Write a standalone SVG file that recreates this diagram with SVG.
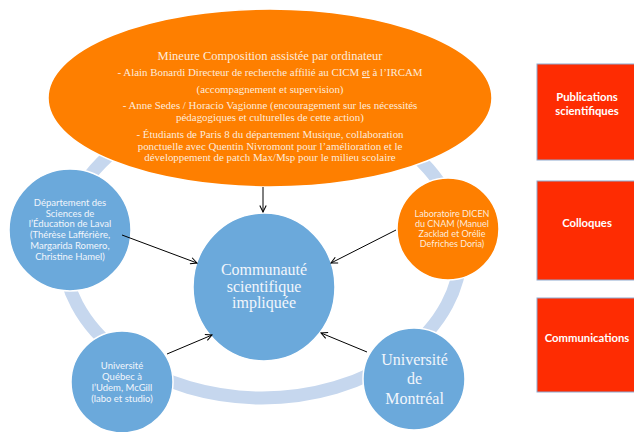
<svg xmlns="http://www.w3.org/2000/svg" width="634" height="432" viewBox="0 0 634 432">
<defs>
<style>
.blue{fill:#6ba9db;stroke:#ffffff;stroke-width:1.5}
.orange{fill:#fe7f00;stroke:#ffffff;stroke-width:1.5}
.red{fill:#fe2c02;stroke:#8ea9d0;stroke-width:1}
.serif{font-family:"Liberation Serif","Times New Roman",serif;text-anchor:middle}
.sans{font-family:Lato,"Liberation Sans",sans-serif;text-anchor:middle}
.cream{fill:#fdebdc}
.wt{fill:#f2f6fb}
.bold{font-family:Lato,"Liberation Sans",sans-serif;font-weight:bold;fill:#ffffff;text-anchor:middle;font-size:11.3px}
.conn{stroke:#000000;stroke-width:1;fill:none;marker-end:url(#arr)}
</style>
<marker id="arr" viewBox="0 0 10 10" refX="9" refY="5" markerWidth="8" markerHeight="8" markerUnits="userSpaceOnUse" orient="auto">
<path d="M1,1 L9,5 L1,9" fill="none" stroke="#000000" stroke-width="1.3"/>
</marker>
</defs>
<rect width="634" height="432" fill="#ffffff"/>
<g id="ring">
<ellipse cx="262" cy="250" rx="199" ry="148" fill="none" stroke="#c6d7ee" stroke-width="13"/>
</g>
<g id="mineure">
<ellipse class="orange" cx="270" cy="98" rx="222" ry="89"/>
<text class="serif cream" x="270" y="60" font-size="12.5">Mineure Composition assistée par ordinateur</text>
<text class="serif cream" x="270" y="76" font-size="10.9">- Alain Bonardi Directeur de recherche affilié au CICM <tspan text-decoration="underline">et</tspan> à l’IRCAM</text>
<text class="serif cream" x="270" y="92.5" font-size="10.9">(accompagnement et supervision)</text>
<text class="serif cream" x="270" y="109" font-size="10.9">- Anne Sedes / Horacio Vagionne (encouragement sur les nécessités</text>
<text class="serif cream" x="270" y="120.5" font-size="10.9">pédagogiques et culturelles de cette action)</text>
<text class="serif cream" x="270" y="138" font-size="10.9">- Étudiants de Paris 8 du département Musique, collaboration</text>
<text class="serif cream" x="270" y="149.5" font-size="10.9">ponctuelle avec Quentin Nivromont pour l’amélioration et le</text>
<text class="serif cream" x="270" y="160.5" font-size="10.9">développement de patch Max/Msp pour le milieu scolaire</text>
</g>
<g id="laval">
<circle class="blue" cx="70" cy="230" r="61"/>
<text class="sans wt" x="70" font-size="9.5"><tspan x="70" y="205.5">Département  des</tspan><tspan x="70" y="216.5">Sciences de</tspan><tspan x="70" y="227">l’Éducation de Laval</tspan><tspan x="70" y="238">(Thérèse Lafférière,</tspan><tspan x="70" y="249">Margarida Romero,</tspan><tspan x="70" y="260">Christine Hamel)</tspan></text>
</g>
<g id="dicen">
<circle class="orange" cx="448" cy="229" r="51"/>
<text class="sans cream" x="452" font-size="9"><tspan x="452" y="216.5">Laboratoire DICEN</tspan><tspan x="452" y="226.5">du CNAM (Manuel</tspan><tspan x="452" y="236.5">Zacklad et Orélie</tspan><tspan x="452" y="247">Defriches Doria)</tspan></text>
</g>
<g id="quebec">
<circle class="blue" cx="122" cy="382" r="51"/>
<text class="sans wt" x="122" font-size="9.5"><tspan x="122" y="368.5">Université</tspan><tspan x="122" y="380">Québec à</tspan><tspan x="122" y="391">l’Udem, McGill</tspan><tspan x="122" y="402">(labo et studio)</tspan></text>
</g>
<g id="montreal">
<circle class="blue" cx="414" cy="379" r="51"/>
<text class="serif wt" x="414.5" font-size="16"><tspan x="414.5" y="365">Université</tspan><tspan x="414.5" y="383.5">de</tspan><tspan x="414.5" y="404">Montréal</tspan></text>
</g>
<g id="communaute">
<ellipse class="blue" cx="264" cy="287" rx="71" ry="74"/>
<text class="serif wt" x="264" font-size="16"><tspan x="264" y="275">Communauté</tspan><tspan x="264" y="291.5">scientifique</tspan><tspan x="264" y="308">impliquée</tspan></text>
</g>
<g id="publications">
<rect class="red" x="537" y="64" width="100" height="96"/>
<text class="bold"><tspan x="587" y="101">Publications</tspan><tspan x="587" y="115">scientifiques</tspan></text>
</g>
<g id="colloques">
<rect class="red" x="537" y="181" width="100" height="99"/>
<text class="bold" x="587" y="227">Colloques</text>
</g>
<g id="communications">
<rect class="red" x="537" y="298" width="100" height="94"/>
<text class="bold" x="587" y="342">Communications</text>
</g>
<g id="connectors">
<line class="conn" x1="263" y1="187" x2="263" y2="212"/>
<line class="conn" x1="122" y1="235" x2="197" y2="263"/>
<line class="conn" x1="396" y1="230" x2="331" y2="263"/>
<line class="conn" x1="167" y1="354" x2="212" y2="335"/>
<line class="conn" x1="367" y1="352" x2="321" y2="333"/>
</g>
</svg>
